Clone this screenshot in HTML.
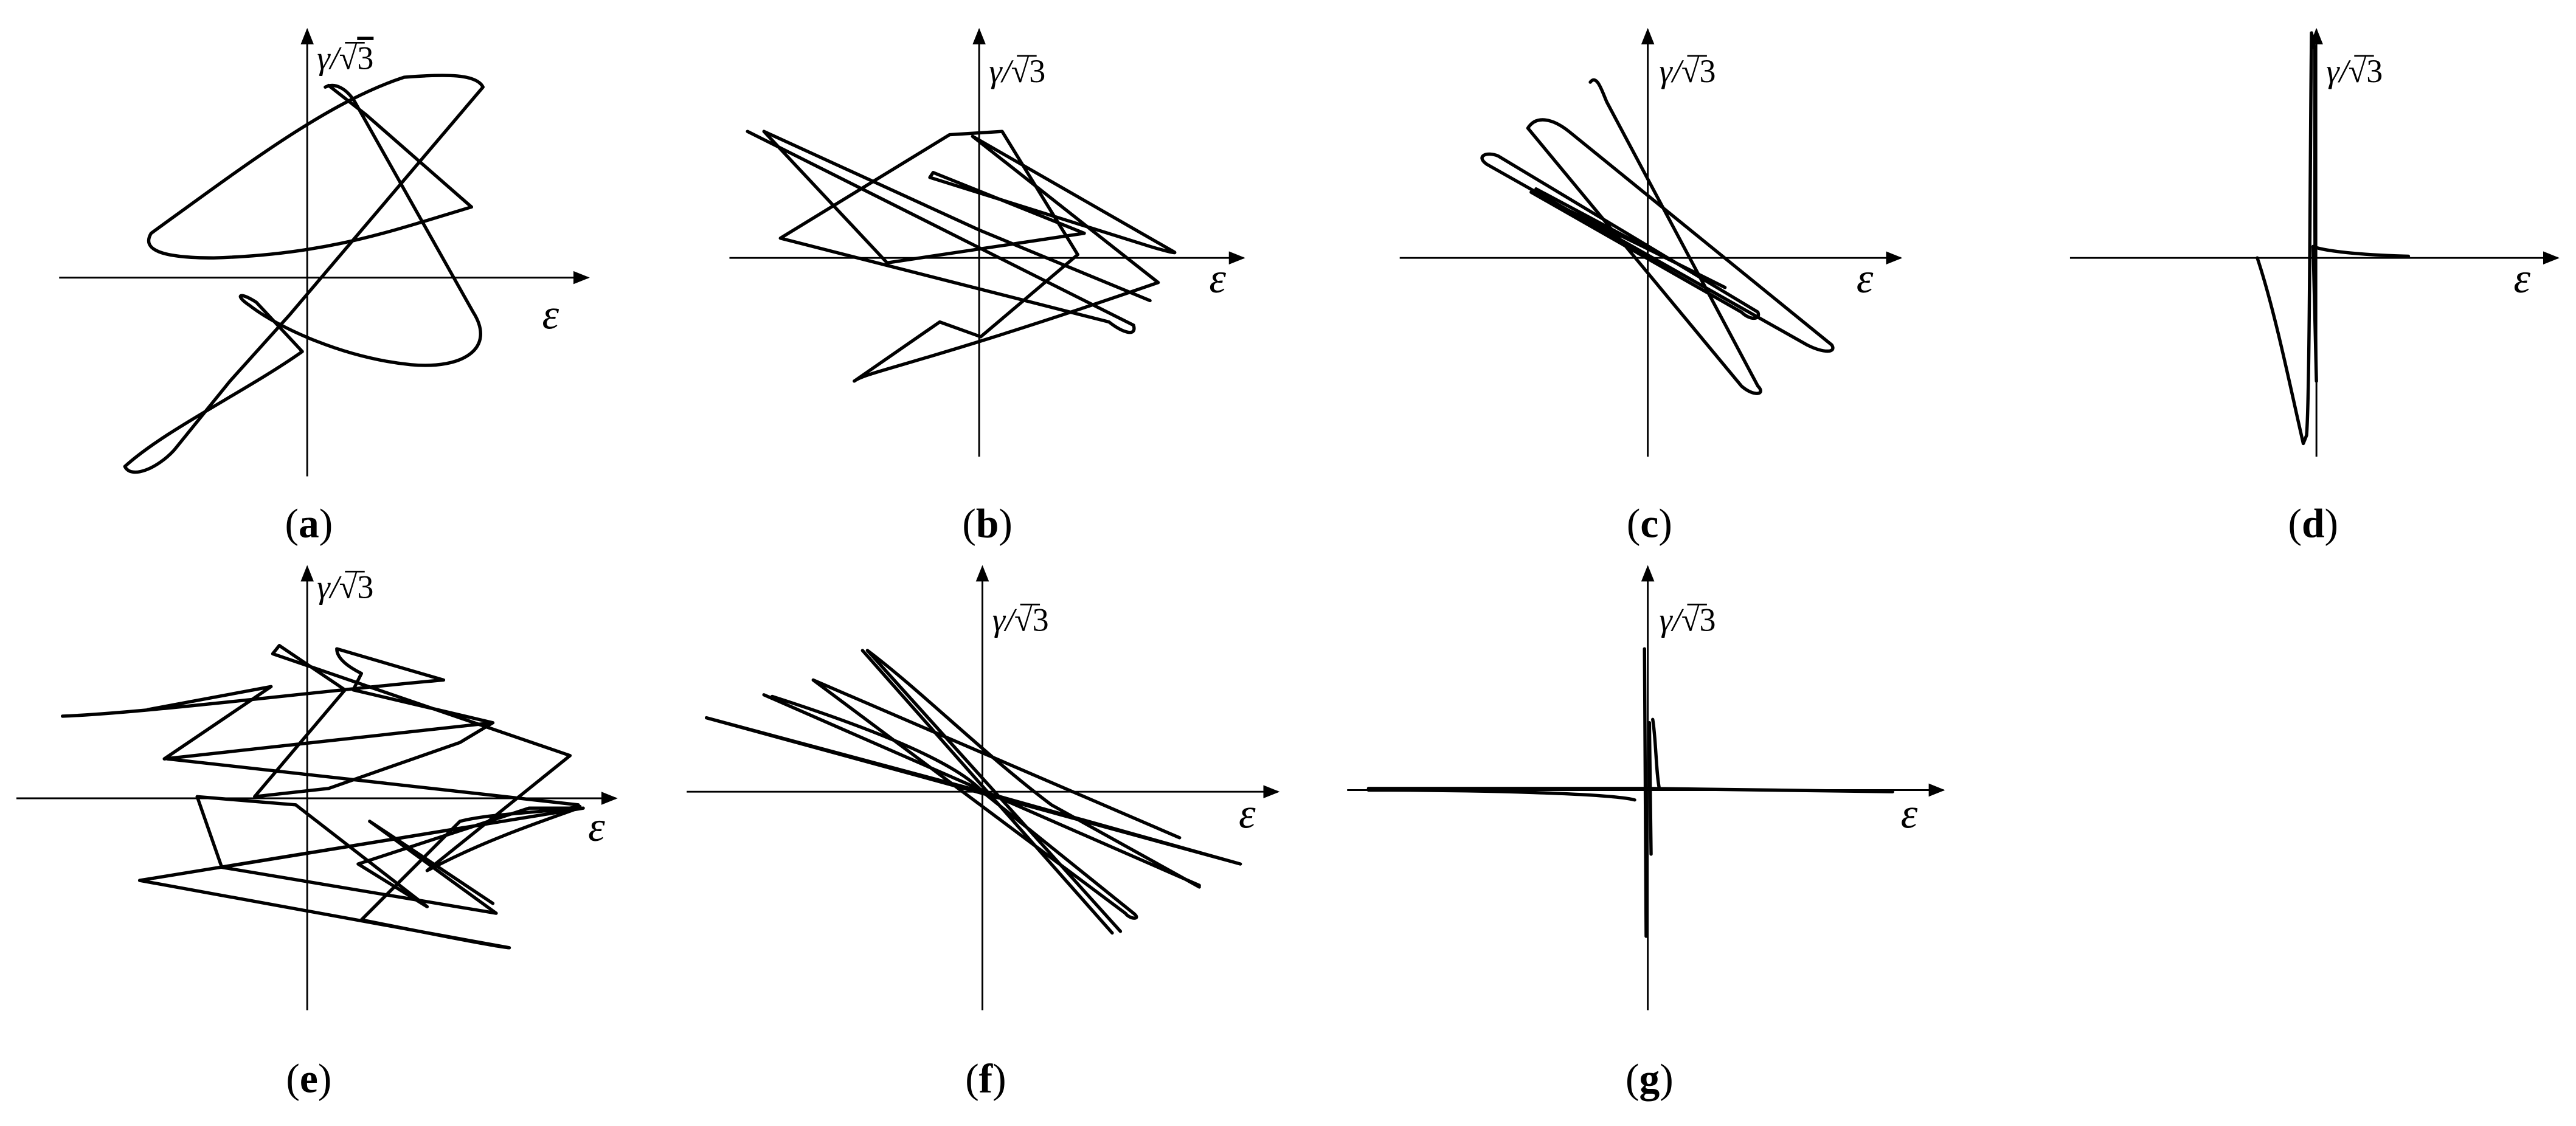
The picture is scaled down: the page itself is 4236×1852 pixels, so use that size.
<!DOCTYPE html>
<html><head><meta charset="utf-8"><style>
html,body{margin:0;padding:0;background:#fff;}
svg{display:block;}
text{font-family:"Liberation Serif",serif;fill:#000;}
.ax{stroke:#000;stroke-width:1.1;fill:none;}
.c{stroke:#000;stroke-width:2;fill:none;stroke-linejoin:round;stroke-linecap:round;}
.lab{font-size:25px;}
.g{font-size:20px;font-style:italic;}
.e{font-size:26px;font-style:italic;}
</style></head><body>
<svg width="4236" height="1852" viewBox="0 0 1568 685.5" xmlns="http://www.w3.org/2000/svg">
<defs><marker id="ar" markerWidth="10" markerHeight="8" refX="9" refY="4" orient="auto" markerUnits="userSpaceOnUse"><path d="M0,0 L10,4 L0,8 Z" fill="#000"/></marker></defs>

<g class="ax" marker-end="url(#ar)">
<line x1="36" y1="169" x2="358" y2="169"/><line x1="187" y1="290" x2="187" y2="18"/>
<line x1="444" y1="157" x2="757" y2="157"/><line x1="596" y1="278" x2="596" y2="18"/>
<line x1="852" y1="157" x2="1157" y2="157"/><line x1="1003" y1="278" x2="1003" y2="18"/>
<line x1="1260" y1="157" x2="1557" y2="157"/><line x1="1410" y1="278" x2="1410" y2="18"/>
<line x1="10" y1="486" x2="375" y2="486"/><line x1="187" y1="615" x2="187" y2="345"/>
<line x1="418" y1="482" x2="778" y2="482"/><line x1="598" y1="615" x2="598" y2="345"/>
<line x1="820" y1="481" x2="1183" y2="481"/><line x1="1003" y1="615" x2="1003" y2="345"/>
</g>

<g class="g">
<text x="193" y="42">γ/√<tspan text-decoration="overline" font-style="normal">3</tspan></text>
<text x="602" y="50">γ/√<tspan font-style="normal">3</tspan></text>
<text x="1010" y="50">γ/√<tspan font-style="normal">3</tspan></text>
<text x="1416" y="50">γ/√<tspan font-style="normal">3</tspan></text>
<text x="193" y="364">γ/√<tspan font-style="normal">3</tspan></text>
<text x="604" y="384">γ/√<tspan font-style="normal">3</tspan></text>
<text x="1010" y="384">γ/√<tspan font-style="normal">3</tspan></text>
</g>
<g stroke="#000" stroke-width="1">
<line x1="210" y1="26" x2="222" y2="26"/><line x1="619" y1="34" x2="631" y2="34"/><line x1="1027" y1="34" x2="1039" y2="34"/><line x1="1433" y1="34" x2="1445" y2="34"/>
<line x1="210" y1="348" x2="222" y2="348"/><line x1="621" y1="368" x2="633" y2="368"/><line x1="1027" y1="368" x2="1039" y2="368"/>
</g>
<g class="e">
<text x="330" y="200">ε</text><text x="736" y="178">ε</text><text x="1130" y="178">ε</text><text x="1530" y="178">ε</text>
<text x="358" y="512">ε</text><text x="754" y="504">ε</text><text x="1157" y="504">ε</text>
</g>
<g class="lab" text-anchor="middle">
<text x="188" y="327">(<tspan font-weight="bold">a</tspan>)</text>
<text x="601" y="327">(<tspan font-weight="bold">b</tspan>)</text>
<text x="1004" y="327">(<tspan font-weight="bold">c</tspan>)</text>
<text x="1408" y="327">(<tspan font-weight="bold">d</tspan>)</text>
<text x="188" y="665">(<tspan font-weight="bold">e</tspan>)</text>
<text x="600" y="665">(<tspan font-weight="bold">f</tspan>)</text>
<text x="1004" y="665">(<tspan font-weight="bold">g</tspan>)</text>
</g>

<path class="c" d="M198,53 C204,50 211,54 216,62 L288,190 C302,212 282,225 250,222 C210,218 170,200 152,186 C143,180 145,177 156,184 L184,214 C150,238 100,262 76,284 C80,292 96,285 106,274 L140,232 L176,192 L294,53 C290,45 272,45 246,47 C200,62 150,100 92,142 C86,152 98,157 130,157 C200,155 240,140 287,126 L223,70 L200,52"/>
<path class="c" d="M455,80 L690,198 C692,205 684,203 675,196 L475,145 L578,82 L610,80 L656,155 L597,205 L572,196 L520,232 C528,226 560,222 705,172 L592,83 L714,153 C718,155 710,153 700,150 L566,108 L568,105 L660,142 L540,160 L465,80 L596,140 L700,183"/>
<path class="c" d="M968,50 C972,45 975,55 978,62 L1070,235 C1075,240 1068,242 1060,235 L930,78 C935,70 945,72 955,80 L1115,210 C1118,215 1110,215 1100,210 L905,100 C898,95 905,92 912,95 L1070,190 C1072,195 1065,195 1060,190 L932,117 L1000,150 L1050,175 L1010,155 L935,115"/>
<path class="c" d="M1374,157 C1385,190 1395,240 1402,270 L1404,265 C1406,240 1406,100 1407,20 L1409,30 C1409,100 1409,200 1410,232 L1408,150 C1412,152 1430,155 1466,156"/>
<path class="c" d="M38,436 C90,434 200,420 270,414 L205,395 C205,400 210,405 220,410 L215,420 L300,440 L100,462 L165,418 L90,432 M300,440 L280,452 L200,480 L155,485 L210,420 L170,393 L166,398 L347,460 L260,530 L270,525 C300,510 330,500 352,492 L322,492 L218,526 L260,552 L180,490 L120,485 L135,528 L302,556 L225,500 L300,550 M352,490 L102,462 M135,528 L355,492 L85,536 L310,577 C300,576 260,568 220,560 L280,500 C300,495 330,495 353,491"/>
<path class="c" d="M430,437 L755,526 M465,423 L730,539 M495,414 L718,510 M528,396 L682,567 M525,396 L677,568 M430,437 L598,482 L755,526 M470,424 C520,440 580,462 598,482 L690,556 C695,560 688,560 685,556 L495,414 M528,396 C560,420 600,460 640,490 L730,540"/>
<path class="c" d="M833,480 L1003,480 L1152,482 M833,481 C900,481 980,483 995,487 M1001,395 L1002,570 M1004,440 L1005,520 M1006,438 C1008,450 1008,470 1010,480"/>
</svg>
</body></html>
